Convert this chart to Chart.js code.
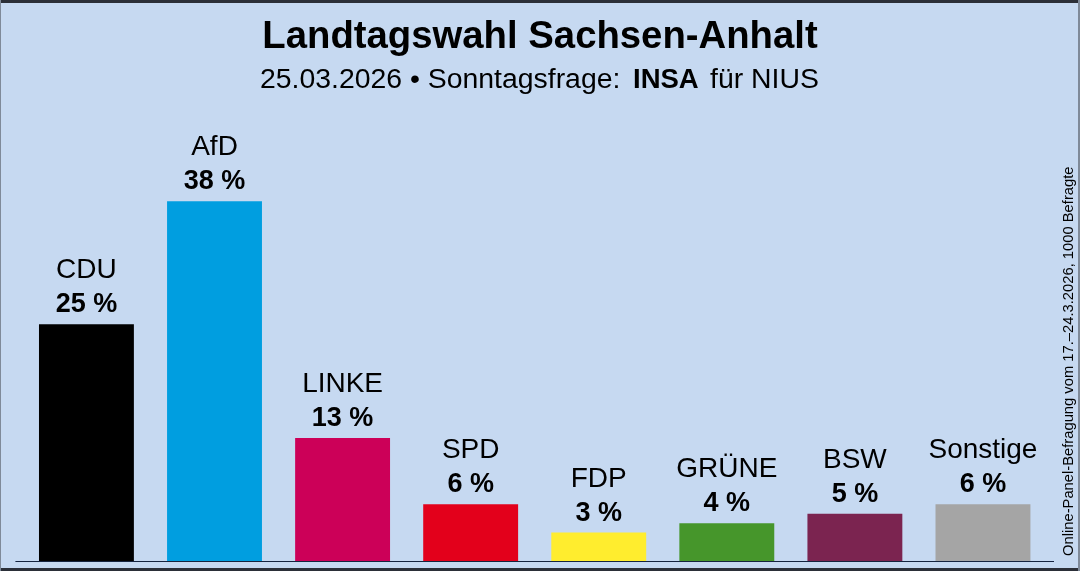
<!DOCTYPE html>
<html><head><meta charset="utf-8">
<style>
html,body{margin:0;padding:0;background:#c6d9f1;}
#w{position:relative;width:1080px;height:571px;overflow:hidden;}
canvas{position:absolute;left:0;top:0;}
</style>
<script src="https://cdn.jsdelivr.net/npm/chart.js@4"></script>
</head><body><div id="w"><canvas id="c" width="1080" height="571"></canvas></div>
<script>
const categories=["CDU","AfD","LINKE","SPD","FDP","GRÜNE","BSW","Sonstige"];
const values=[25,38,13,6,3,4,5,6];
const colors=["#000000","#009ee0","#cc0058","#e3001b","#ffed2e","#46962b","#7b2450","#a5a5a5"];
const titleText="Landtagswahl Sachsen-Anhalt";
const subtitleParts=[["25.03.2026 • Sonntagsfrage:",false,260],["INSA",true,633],["für NIUS",false,710]];
const sideNote="Online-Panel-Befragung vom 17.–24.3.2026, 1000 Befragte";
const FONT='"Liberation Sans", Arial, sans-serif';
const deco={id:"deco",
 afterDatasetsDraw(ch){
  const g=ch.ctx,m=ch.getDatasetMeta(0),a=ch.chartArea;
  g.save();
  g.fillStyle="#2b2f38";g.fillRect(0,0,1080,3);g.fillRect(0,568,1080,3);
  g.fillStyle="#7f8a99";g.fillRect(0,0,1,571);g.fillRect(1078,0,2,571);
  g.fillStyle="#14233f";g.fillRect(a.left-7,a.bottom,a.right-a.left+14,1);
  g.textAlign="center";g.fillStyle="#000";g.textBaseline="alphabetic";
  m.data.forEach((b,i)=>{
    g.font="28px "+FONT;g.fillText(categories[i],b.x,b.y-46);
    g.font="bold 27px "+FONT;g.fillText(values[i]+" %",b.x,b.y-12);
  });
  g.font="bold 38.3px "+FONT;g.fillText(titleText,540,48);
  g.textAlign="left";
  subtitleParts.forEach(p=>{g.font=p[1]?"bold 27.5px "+FONT:"28.4px "+FONT;g.fillText(p[0],p[2],88);});
  g.translate(1073,556);g.rotate(-Math.PI/2);g.font="14.76px "+FONT;g.fillText(sideNote,0,0);
  g.restore();
 }};
new Chart(document.getElementById("c"),{type:"bar",
 data:{labels:categories,datasets:[{data:values,backgroundColor:colors,barPercentage:1,categoryPercentage:0.741}]},
 options:{responsive:false,animation:false,
  layout:{padding:{left:22.4,right:33,top:12,bottom:10}},
  plugins:{legend:{display:false},tooltip:{enabled:false}},
  scales:{
   x:{display:false},
   y:{display:false,min:0,max:58}
  }},
 plugins:[deco]});
</script></body></html>
